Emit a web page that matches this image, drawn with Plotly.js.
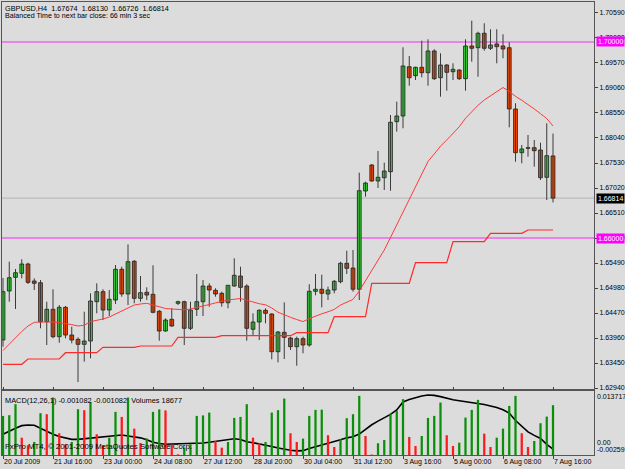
<!DOCTYPE html>
<html>
<head>
<meta charset="utf-8">
<script src="https://cdn.plot.ly/plotly-3.0.1.min.js"></script>
<style>
html,body{margin:0;padding:0;background:#dcdcdc;}
#chart{width:625px;height:469px;}
</style>
</head>
<body>
<div id="chart"></div>
<script>
// ---- data (GBPUSD H4) ----
const tickPositions = [0, 8, 16, 24, 32, 40, 48, 56, 64, 72, 80, 88];
const tickLabels = ['20 Jul 2009', '21 Jul 16:00', '23 Jul 00:00', '24 Jul 08:00', '27 Jul 12:00', '28 Jul 20:00',
  '30 Jul 04:00', '31 Jul 12:00', '3 Aug 16:00', '5 Aug 00:00', '6 Aug 08:00', '7 Aug 16:00'];
const priceTicks = [1.62940, 1.63450, 1.63960, 1.64470, 1.64980, 1.65490, 1.66000, 1.66510,
  1.67020, 1.67530, 1.68040, 1.68550, 1.69060, 1.69570, 1.70080, 1.70590];

const openP = [1.63919,1.64919,1.65198,1.65280,1.65470,1.65123,1.65088,1.64293,1.64546,1.63987,
  1.64586,1.64021,1.63933,1.63831,1.63899,1.64701,1.64905,1.64531,1.64735,1.65362,
  1.64858,1.65525,1.64770,1.64892,1.64851,1.64505,1.64103,1.64341,1.64668,1.64701,
  1.64158,1.64546,1.64701,1.65021,1.64933,1.64872,1.64680,1.65021,1.65225,1.65021,
  1.64138,1.64286,1.64525,1.64450,1.63681,1.64076,1.63960,1.63783,1.63946,1.63817,
  1.64913,1.64954,1.64858,1.64939,1.65109,1.65484,1.65388,1.64954,1.66959,1.67489,
  1.67163,1.67230,1.67352,1.68373,1.68489,1.69494,1.69311,1.69482,1.69372,1.69815,
  1.69270,1.69529,1.69392,1.69427,1.69250,1.69917,1.69882,1.70176,1.69870,1.69958,
  1.69917,1.69882,1.68632,1.67740,1.67842,1.67842,1.67795,1.67238,1.67674];
const highP = [1.65184,1.65517,1.65368,1.65566,1.65496,1.65178,1.65143,1.64701,1.64954,1.64633,
  1.64613,1.64191,1.63974,1.64497,1.64872,1.65076,1.64954,1.64939,1.65449,1.65414,
  1.65871,1.65551,1.65225,1.64994,1.65443,1.64531,1.64362,1.64566,1.64721,1.64721,
  1.64701,1.65266,1.65143,1.65076,1.64974,1.64905,1.65041,1.65586,1.65414,1.65056,
  1.64464,1.64546,1.64566,1.64464,1.64103,1.64688,1.63987,1.63987,1.63987,1.65056,
  1.65266,1.65251,1.65007,1.65143,1.65517,1.65741,1.65755,1.67332,1.67148,1.67510,
  1.67775,1.67536,1.68509,1.68781,1.69890,1.69713,1.69494,1.70025,1.70053,1.69850,
  1.69768,1.69550,1.69564,1.69441,1.70053,1.70433,1.70208,1.70380,1.70258,1.70258,
  1.70155,1.69992,1.68748,1.67897,1.68101,1.67999,1.67944,1.68340,1.68130];
const lowP = [1.63783,1.64701,1.64552,1.65178,1.65062,1.64939,1.64158,1.63817,1.63954,1.63864,
  1.63954,1.63852,1.63063,1.63477,1.63546,1.64464,1.64327,1.64409,1.64654,1.64803,
  1.64633,1.64668,1.64701,1.64735,1.64464,1.63905,1.64089,1.64191,1.64633,1.63817,
  1.64123,1.64409,1.64409,1.64599,1.64803,1.64599,1.64566,1.65007,1.64701,1.63905,
  1.64001,1.63919,1.64260,1.63526,1.63464,1.63532,1.63715,1.63395,1.63648,1.63783,
  1.64831,1.64586,1.64735,1.64872,1.65076,1.65266,1.64905,1.64735,1.66843,1.67148,
  1.67020,1.66979,1.66965,1.68169,1.68238,1.69107,1.69223,1.69278,1.69107,1.69223,
  1.68883,1.69005,1.69223,1.69223,1.69005,1.69596,1.69290,1.69821,1.69835,1.69564,
  1.69666,1.68258,1.67556,1.67524,1.67659,1.67455,1.67183,1.66775,1.66726];
const closeP = [1.64905,1.65190,1.65292,1.65470,1.65096,1.65076,1.64293,1.64546,1.63987,1.64586,
  1.64021,1.63919,1.63831,1.63899,1.64715,1.64905,1.64531,1.64750,1.65362,1.64858,
  1.65517,1.64770,1.64884,1.64837,1.64484,1.64103,1.64327,1.64205,1.64701,1.64158,
  1.64531,1.64701,1.65021,1.64939,1.64858,1.64680,1.65035,1.65239,1.64994,1.64158,
  1.64286,1.64525,1.64464,1.63681,1.64082,1.63974,1.63783,1.63946,1.63817,1.64913,
  1.64954,1.64872,1.64939,1.65117,1.65484,1.65382,1.64954,1.66965,1.67122,1.67163,
  1.67238,1.67367,1.68360,1.68489,1.69509,1.69270,1.69482,1.69372,1.69815,1.69250,
  1.69529,1.69380,1.69441,1.69250,1.69917,1.69870,1.70176,1.69870,1.69937,1.69903,
  1.69856,1.68632,1.67740,1.67816,1.67830,1.67781,1.67230,1.67679,1.66814];

const maLine = [1.63705,1.63838,1.63960,1.64093,1.64205,1.64280,1.64286,1.64293,1.64286,1.64276,
  1.64262,1.64233,1.64205,1.64221,1.64295,1.64317,1.64348,1.64388,1.64450,1.64511,
  1.64578,1.64633,1.64654,1.64668,1.64633,1.64592,1.64562,1.64552,1.64543,1.64535,
  1.64552,1.64578,1.64609,1.64643,1.64676,1.64707,1.64735,1.64750,1.64766,1.64731,
  1.64690,1.64660,1.64637,1.64572,1.64486,1.64429,1.64382,1.64337,1.64295,1.64356,
  1.64409,1.64454,1.64495,1.64543,1.64633,1.64694,1.64747,1.64919,1.65127,1.65333,
  1.65525,1.65755,1.66010,1.66265,1.66518,1.66775,1.67030,1.67306,1.67561,1.67714,
  1.67873,1.67999,1.68134,1.68269,1.68442,1.68579,1.68707,1.68815,1.68901,1.68995,
  1.69070,1.68989,1.68889,1.68811,1.68728,1.68632,1.68536,1.68436,1.68285];

const stepLine = [1.63424,1.63424,1.63424,1.63424,
  1.63532,1.63532,1.63532,1.63532,1.63532,1.63532,
  1.63660,1.63660,1.63660,1.63660,1.63660,1.63660,
  1.63770,1.63770,1.63770,1.63770,1.63770,1.63770,
  1.63797,1.63797,1.63797,1.63797,1.63797,1.63797,
  1.63974,1.63974,1.63974,1.63974,1.63974,1.63974,1.63974,
  1.64007,1.64007,1.64007,1.64007,1.64007,1.64007,1.64007,1.64007,1.64007,1.64007,1.64007,1.64007,
  1.64068,1.64068,1.64068,1.64068,1.64068,1.64068,
  1.64395,1.64395,1.64395,1.64395,1.64395,1.64395,
  1.65076,1.65076,1.65076,1.65076,1.65076,1.65076,1.65076,
  1.65496,1.65496,1.65496,1.65496,1.65496,1.65496,
  1.65925,1.65925,1.65925,1.65925,1.65925,1.65925,
  1.66096,1.66096,1.66096,1.66096,1.66096,1.66096,
  1.66163,1.66163,1.66163,1.66163,1.66163];

const macd = [0.00270,0.00352,0.00423,0.00489,0.00505,0.00499,0.00415,0.00334,0.00268,0.00211,
  0.00168,0.00140,0.00140,0.00155,0.00168,0.00178,0.00189,0.00204,0.00232,0.00250,
  0.00227,0.00204,0.00178,0.00132,0.00066,0.00033,0.00013,0.00020,0.00023,0.00028,
  0.00031,0.00036,0.00048,0.00066,0.00087,0.00107,0.00127,0.00155,0.00135,0.00079,
  0.00054,0.00028,0.00000,-0.00041,-0.00082,-0.00120,-0.00140,-0.00153,-0.00148,-0.00094,
  -0.00051,-0.00010,0.00028,0.00071,0.00130,0.00178,0.00204,0.00275,0.00403,0.00512,
  0.00604,0.00688,0.00775,0.00887,0.01091,0.01157,0.01210,0.01243,0.01269,0.01259,
  0.01228,0.01185,0.01149,0.01124,0.01101,0.01075,0.01052,0.01027,0.00989,0.00953,
  0.00892,0.00810,0.00619,0.00466,0.00331,0.00242,0.00161,0.00013,-0.001082];

const volumes = [14660,14930,19060,6500,3650,4890,15680,15300,21550,8160,
  4020,4890,17180,16810,19930,7780,3650,6500,16170,14290,
  21550,9890,4510,6200,16170,17110,16730,3760,260,2750,
  4020,14660,14850,15910,5260,2750,4890,13910,14290,19060,
  6500,4400,4890,15910,16810,21170,8160,4890,6130,14660,
  16920,17000,7410,3010,5900,13800,15300,22180,7140,190,
  4400,5640,15530,16540,20940,6770,3380,7140,13910,14660,
  19670,7410,3380,4630,14030,16920,20680,8010,3010,6500,
  9890,18420,22180,8160,3010,5260,11920,14400,18677];

const levelLines = [1.70000, 1.66000];
const symbolName = 'GBPUSD,H4';
const macdScale = [0.013717, 0.00, -0.00259];

// ---- build traces ----
const n = openP.length;
const last = n - 1;
const idx = openP.map((_, i) => i);
const wx = [], wy = [];
idx.forEach(i => { wx.push(i, i, null); wy.push(lowP[i], highP[i], null); });
const bodyBase = idx.map(i => Math.min(openP[i], closeP[i]));
const bodyH = idx.map(i => Math.max(Math.abs(closeP[i] - openP[i]), 0.00003));
const bodyCol = idx.map(i => closeP[i] >= openP[i] ? '#3ad43a' : '#ff4a00');
const volCol = volumes.map((v, i) => (i === 0 || v >= volumes[i - 1]) ? '#0a8f0a' : '#ff1a1a');
const lastPrice = closeP[last];

const traces = [
  {type: 'bar', x: idx, y: volumes, xaxis: 'x', yaxis: 'y3', width: 0.36,
   marker: {color: volCol, line: {width: 0}}, hoverinfo: 'skip'},
  {type: 'scatter', mode: 'lines', x: idx, y: macd, xaxis: 'x', yaxis: 'y2',
   line: {color: '#000000', width: 1.6}, hoverinfo: 'skip'},
  {type: 'scatter', mode: 'lines', x: wx, y: wy, xaxis: 'x', yaxis: 'y',
   line: {color: '#3a3a3a', width: 1}, hoverinfo: 'skip', connectgaps: false},
  {type: 'bar', x: idx, y: bodyH, base: bodyBase, xaxis: 'x', yaxis: 'y', width: 0.6,
   marker: {color: bodyCol, line: {color: '#101010', width: 0.8}}, hoverinfo: 'skip'},
  {type: 'scatter', mode: 'lines', x: idx, y: maLine, xaxis: 'x', yaxis: 'y',
   line: {color: '#ff3a3a', width: 1}, hoverinfo: 'skip'},
  {type: 'scatter', mode: 'lines', x: idx, y: stepLine, xaxis: 'x', yaxis: 'y',
   line: {color: '#ff2a2a', width: 1.2}, hoverinfo: 'skip'}
];

const fontFam = '"Liberation Sans", Arial, sans-serif';
const shapes = [
  {type: 'line', xref: 'paper', x0: 0, x1: 1, yref: 'y', y0: lastPrice, y1: lastPrice,
   line: {color: '#b4b4b4', width: 1}, layer: 'below'}
];
levelLines.forEach(l => shapes.push({type: 'line', xref: 'paper', x0: 0, x1: 1, yref: 'y', y0: l, y1: l,
  line: {color: '#ee66ee', width: 1.5}, layer: 'below'}));

const annotations = [];
levelLines.forEach(l => annotations.push({xref: 'paper', x: 1, xanchor: 'left', xshift: 2, yref: 'y', y: l,
  yanchor: 'middle', text: l.toFixed(5), showarrow: false, bgcolor: '#ff00ff', borderpad: 1,
  font: {family: fontFam, size: 7, color: '#ffffff'}}));
annotations.push({xref: 'paper', x: 1, xanchor: 'left', xshift: 2, yref: 'y', y: lastPrice,
  yanchor: 'middle', text: lastPrice.toFixed(5), showarrow: false, bgcolor: '#000000', borderpad: 1,
  font: {family: fontFam, size: 7, color: '#ffffff'}});
annotations.push({xref: 'paper', x: 0, xanchor: 'left', xshift: 1, yref: 'paper', y: 1, yanchor: 'top', yshift: 0,
  showarrow: false, align: 'left',
  text: symbolName + '\u00a0 ' + [openP[last], highP[last], lowP[last], closeP[last]].map(v => v.toFixed(5)).join('\u00a0 '),
  font: {family: fontFam, size: 7.3, color: '#000'}});
annotations.push({xref: 'paper', x: 0, xanchor: 'left', xshift: 1, yref: 'paper', y: 1, yanchor: 'top', yshift: -8,
  showarrow: false, align: 'left', text: 'Balanced Time to next bar close: 66 min 3 sec',
  font: {family: fontFam, size: 7.1, color: '#000'}});
annotations.push({xref: 'paper', x: 0, xanchor: 'left', xshift: 1, yref: 'paper', y: 0.14128, yanchor: 'top', yshift: -3,
  showarrow: false, align: 'left',
  text: 'MACD(12,26,1) ' + macd[last].toFixed(6) + ' ' + macd[last].toFixed(6) + '\u00a0 Volumes ' + volumes[last],
  font: {family: fontFam, size: 7.4, color: '#000'}});
annotations.push({xref: 'paper', x: 0, xanchor: 'left', xshift: 1, yref: 'paper', y: 0, yanchor: 'bottom', yshift: 2,
  showarrow: false, align: 'left', text: 'FxPro MT4, © 2001-2009 MetaQuotes Software Corp.',
  font: {family: fontFam, size: 7.8, color: '#000'}});
annotations.push({xref: 'paper', x: 1, xanchor: 'left', xshift: 1, yref: 'y2', y: macdScale[0], yanchor: 'top',
  showarrow: false, text: macdScale[0].toFixed(6), font: {family: fontFam, size: 7, color: '#000'}});
annotations.push({xref: 'paper', x: 1, xanchor: 'left', xshift: 1, yref: 'y2', y: macdScale[1], yanchor: 'middle', yshift: 2,
  showarrow: false, text: macdScale[1].toFixed(2), font: {family: fontFam, size: 7, color: '#000'}});
annotations.push({xref: 'paper', x: 1, xanchor: 'left', xshift: 1, yref: 'y2', y: macdScale[2], yanchor: 'bottom',
  showarrow: false, text: macdScale[2].toFixed(5), font: {family: fontFam, size: 7, color: '#000'}});

const layout = {
  width: 625, height: 469,
  margin: {l: 2, r: 31, t: 2, b: 14, pad: 0},
  paper_bgcolor: '#dcdcdc', plot_bgcolor: '#dcdcdc',
  showlegend: false, hovermode: false, barmode: 'overlay', dragmode: false,
  font: {family: fontFam, size: 7, color: '#000'},
  xaxis: {range: [-0.16, 94.56], anchor: 'y2', tickmode: 'array', tickvals: tickPositions, ticktext: tickLabels,
    ticks: 'outside', ticklen: 3, tickcolor: '#404040', ticklabelposition: 'outside right',
    showgrid: false, zeroline: false, showline: true, linecolor: '#555555', linewidth: 1, mirror: 'all',
    tickfont: {family: fontFam, size: 7, color: '#000'}, fixedrange: true},
  yaxis: {domain: [0.1457, 1], range: [1.62920, 1.70814], side: 'right', anchor: 'x', tickmode: 'array',
    tickvals: priceTicks, tickformat: '.5f', ticks: 'outside', ticklen: 3, tickcolor: '#404040',
    showgrid: false, zeroline: false, showline: true, linecolor: '#555555', linewidth: 1, mirror: true,
    tickfont: {family: fontFam, size: 7, color: '#000'}, fixedrange: true},
  yaxis2: {domain: [0, 0.14128], range: [-0.00259, 0.013717], side: 'right', anchor: 'x', showticklabels: false,
    ticks: '', showgrid: false, zeroline: false, showline: true, linecolor: '#555555', linewidth: 1, mirror: true,
    fixedrange: true},
  yaxis3: {overlaying: 'y2', range: [0, 24000], visible: false, anchor: 'x', fixedrange: true},
  shapes: shapes,
  annotations: annotations
};

Plotly.newPlot('chart', traces, layout, {displayModeBar: false, staticPlot: true});
</script>
</body>
</html>
